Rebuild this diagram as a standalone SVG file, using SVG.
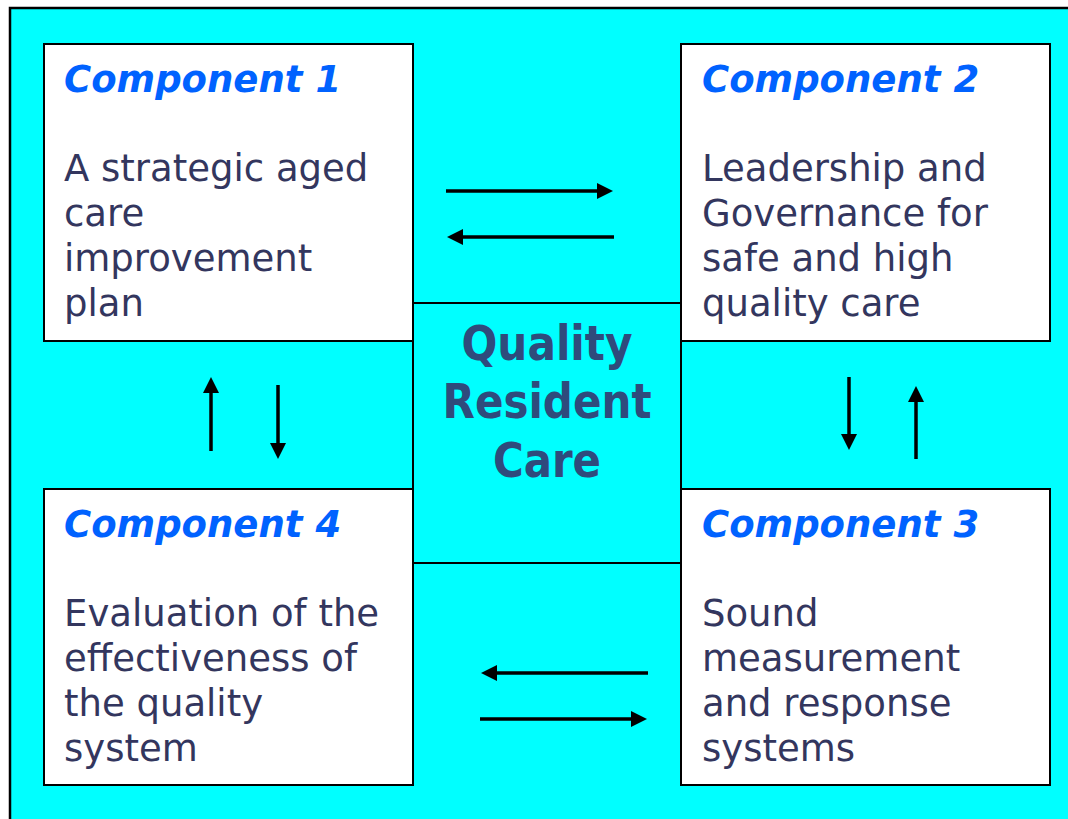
<svg xmlns="http://www.w3.org/2000/svg" width="1068" height="819" viewBox="0 0 1068 819">
<style>
  .box { fill: #ffffff; stroke: #000000; stroke-width: 2; }
  .title { font-family: "DejaVu Sans", Verdana, sans-serif; font-size: 37px; font-weight: bold; font-style: italic; fill: #0062FF; }
  .body { font-family: "DejaVu Sans", Verdana, sans-serif; font-size: 37px; fill: #33365E; }
  .center { font-family: "DejaVu Sans", Verdana, sans-serif; font-size: 48px; font-weight: bold; fill: #2F4B7C; text-anchor: middle; }
  .arrow { stroke: #000000; stroke-width: 3.5; fill: none; marker-end: url(#head); }
</style>
<defs>
  <marker id="head" markerUnits="userSpaceOnUse" markerWidth="16" markerHeight="16" refX="0" refY="8" orient="auto">
    <path d="M0,0 L16,8 L0,16 Z" fill="#000000"/>
  </marker>
</defs>
<rect x="0" y="0" width="1068" height="819" fill="#ffffff"/>
<rect x="10" y="8" width="1070" height="830" fill="#00FFFF" stroke="#000000" stroke-width="2.5"/>

<g id="center">
  <rect x="413" y="303" width="268" height="260" fill="#00FFFF" stroke="#000000" stroke-width="2"/>
  <text class="center" x="547" y="360" textLength="171" lengthAdjust="spacingAndGlyphs">Quality</text>
  <text class="center" x="547" y="418" textLength="209" lengthAdjust="spacingAndGlyphs">Resident</text>
  <text class="center" x="547" y="477" textLength="108" lengthAdjust="spacingAndGlyphs">Care</text>
</g>

<g id="component1">
  <rect class="box" x="44" y="44" width="369" height="297"/>
  <text class="title" x="64" y="92">Component 1</text>
  <text class="body" x="64" y="181">A strategic aged</text>
  <text class="body" x="64" y="226">care</text>
  <text class="body" x="64" y="271">improvement</text>
  <text class="body" x="64" y="316">plan</text>
</g>

<g id="component2">
  <rect class="box" x="681" y="44" width="369" height="297"/>
  <text class="title" x="702" y="92">Component 2</text>
  <text class="body" x="702" y="181">Leadership and</text>
  <text class="body" x="702" y="226">Governance for</text>
  <text class="body" x="702" y="271">safe and high</text>
  <text class="body" x="702" y="316">quality care</text>
</g>

<g id="component4">
  <rect class="box" x="44" y="489" width="369" height="296"/>
  <text class="title" x="64" y="537">Component 4</text>
  <text class="body" x="64" y="626">Evaluation of the</text>
  <text class="body" x="64" y="671">effectiveness of</text>
  <text class="body" x="64" y="716">the quality</text>
  <text class="body" x="64" y="761">system</text>
</g>

<g id="component3">
  <rect class="box" x="681" y="489" width="369" height="296"/>
  <text class="title" x="702" y="537">Component 3</text>
  <text class="body" x="702" y="626">Sound</text>
  <text class="body" x="702" y="671">measurement</text>
  <text class="body" x="702" y="716">and response</text>
  <text class="body" x="702" y="761">systems</text>
</g>

<g id="connectors">
  <line class="arrow" x1="446" y1="191" x2="597" y2="191"/>
  <line class="arrow" x1="614" y1="237" x2="463" y2="237"/>
  <line class="arrow" x1="211" y1="451" x2="211" y2="393"/>
  <line class="arrow" x1="278" y1="385" x2="278" y2="443"/>
  <line class="arrow" x1="849" y1="377" x2="849" y2="434"/>
  <line class="arrow" x1="916" y1="459" x2="916" y2="402"/>
  <line class="arrow" x1="648" y1="673" x2="497" y2="673"/>
  <line class="arrow" x1="480" y1="719" x2="631" y2="719"/>
</g>
</svg>
